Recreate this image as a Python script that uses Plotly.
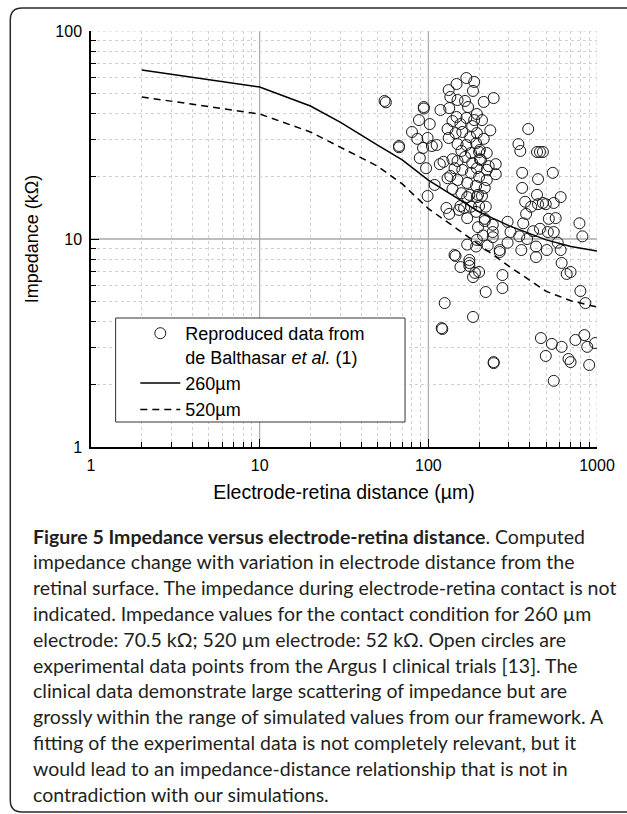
import plotly.graph_objects as go

# ---------------- data ----------------
# Reproduced clinical data (de Balthasar et al.)
dist_um = [55, 56, 67, 67, 94, 94, 88, 102, 80, 86, 99, 93, 105, 112, 89, 97, 117, 123, 109, 99, 118, 130, 128, 133,
           132, 147, 168, 187, 184, 135, 149, 165, 172, 133, 147, 168, 194, 208, 213, 244, 130, 145, 159, 182, 194,
           132, 149, 168, 192, 213, 222, 202, 179, 157, 139, 149, 165, 182, 205, 251, 251, 222, 200, 179, 159, 143,
           135, 149, 170, 192, 216, 222, 157, 175, 194, 200, 219, 179, 163, 152, 155, 170, 192, 216, 241, 241, 241,
           197, 211, 200, 202, 194, 197, 170, 139, 177, 155, 187, 233, 228, 139, 208, 216, 194,
           295, 307, 346, 385, 418, 459, 511, 554, 585, 609, 518, 569, 365, 380, 375, 407, 441, 447, 497, 554, 609,
           478, 360, 360, 447, 547, 342, 351, 391, 441, 459, 478, 787, 819, 170, 192, 225, 265, 295, 356, 435, 504,
           143, 175, 435, 617,
           145, 155, 175, 175, 189, 184, 200, 219, 275, 275, 265, 661, 697, 797, 853, 125, 184, 120, 121, 244, 244,
           465, 540, 617, 745, 841, 875, 975, 497, 678, 697, 899, 554]
imp_kohm = [46.1, 45.4, 28.0, 27.6, 43.1, 42.4, 37.3, 35.7, 32.7, 30.3, 30.6, 27.4, 28.0, 28.3, 24.5, 21.9, 22.9, 23.5,
            18.2, 16.1, 41.7, 19.6, 14.1, 13.2,
            52.0, 55.6, 59.4, 56.9, 51.5, 48.2, 46.6, 46.1, 43.1, 42.6, 38.6, 38.2, 39.9, 37.3, 45.6, 47.6, 33.8, 32.3,
            32.7, 34.9, 32.3, 30.6, 28.6, 28.3, 28.9, 30.3, 25.9, 26.8, 25.9, 26.5, 24.2, 23.7, 24.8, 23.2, 24.0, 22.9,
            20.5, 21.5, 19.9, 20.8, 21.5, 21.9, 20.1, 19.2, 18.6, 18.0, 17.6, 19.2, 16.6, 16.3, 15.9, 14.4, 14.3, 14.3,
            14.1, 13.8, 14.4, 12.6, 13.5, 12.5, 11.7, 10.8, 10.2, 11.4, 10.4, 26.2, 24.2, 21.9, 16.3, 15.9, 36.9, 30.9,
            35.7, 37.3, 33.3, 22.4, 17.4, 16.1, 12.2, 9.9,
            12.1, 10.8, 10.3, 10.0, 10.9, 11.2, 10.8, 10.8, 9.6, 8.85, 12.5, 12.6, 11.9, 13.2, 15.1, 14.3, 16.3, 14.7,
            14.7, 14.9, 15.9, 14.9, 20.8, 17.6, 19.4, 20.8, 28.6, 26.5, 33.8, 26.2, 26.2, 26.2, 11.9, 10.3, 9.4, 9.2,
            9.3, 8.85, 9.6, 8.85, 9.2, 8.85, 8.38, 7.93, 8.19, 7.67,
            8.28, 7.33, 7.67, 7.42, 6.87, 6.56, 6.94, 5.56, 6.71, 5.81, 8.66, 6.79, 6.94, 5.62, 4.92, 4.92, 4.22, 3.73,
            3.69, 2.56, 2.53, 3.34, 3.13, 3.03, 3.27, 3.45, 3.03, 3.16, 2.74, 2.65, 2.56, 2.48, 2.08]

# Simulated impedance curves
model_dist = [2, 10, 20, 30, 50, 70, 100, 150, 200, 300, 500, 700, 1000]
imp_260 = [64.9, 53.8, 43.6, 36.5, 28.3, 24.0, 19.2, 15.6, 13.5, 11.6, 9.9, 9.2, 8.75]
imp_520 = [48.2, 39.9, 32.7, 27.7, 22.4, 18.4, 14.0, 11.1, 9.4, 7.4, 5.6, 5.05, 4.71]

x_ticks = [1, 10, 100, 1000]
y_ticks = [1, 10, 100]
x_minor = [2, 3, 4, 5, 6, 7, 8, 9, 20, 30, 40, 50, 60, 70, 80, 90, 200, 300, 400, 500, 600, 700, 800, 900]
y_minor = [2, 3, 4, 5, 6, 7, 8, 9, 20, 30, 40, 50, 60, 70, 80, 90]

caption_lines = [
    "<b>Figure 5 Impedance versus electrode-retina distance</b>. Computed",
    "impedance change with variation in electrode distance from the",
    "retinal surface. The impedance during electrode-retina contact is not",
    "indicated. Impedance values for the contact condition for 260 µm",
    "electrode: 70.5 kΩ; 520 µm electrode: 52 kΩ. Open circles are",
    "experimental data points from the Argus I clinical trials [13]. The",
    "clinical data demonstrate large scattering of impedance but are",
    "grossly within the range of simulated values from our framework. A",
    "fitting of the experimental data is not completely relevant, but it",
    "would lead to an impedance-distance relationship that is not in",
    "contradiction with our simulations.",
]

# ---------------- layout geometry (pixels) ----------------
W, H = 627, 814
L, R, T, B = 91, 605, 31, 447


def px(xp):
    return (xp - L) / (R - L)


def py(yp):
    return (B - yp) / (B - T)


AX_FONT = "Liberation Sans, Arial, sans-serif"

fig = go.Figure()
fig.add_trace(go.Scatter(
    x=dist_um, y=imp_kohm, mode="markers",
    name="Reproduced data from<br>de Balthasar <i>et al.</i> (1)",
    marker=dict(symbol="circle-open", size=11, color="#1a1a1a", line=dict(width=1)),
))
fig.add_trace(go.Scatter(
    x=model_dist, y=imp_260, mode="lines", name="260µm",
    line=dict(color="black", width=1.5),
))
fig.add_trace(go.Scatter(
    x=model_dist, y=imp_520, mode="lines", name="520µm",
    line=dict(color="black", width=1.5, dash="7px,5px"),
))

shapes = []
# solid major grid lines
for xv in [10, 100]:
    shapes.append(dict(type="line", xref="x", yref="paper", x0=xv, x1=xv, y0=0, y1=1,
                       line=dict(color="#9a9a9a", width=1), layer="below"))
shapes.append(dict(type="line", xref="paper", yref="y", x0=0, x1=1, y0=10, y1=10,
                   line=dict(color="#a8a8a8", width=1.5), layer="below"))
shapes.append(dict(type="line", xref="x", yref="paper", x0=1000, x1=1000, y0=0, y1=1,
                   line=dict(color="#d0d0d0", width=1, dash="dot"), layer="below"))
shapes.append(dict(type="line", xref="paper", yref="y", x0=0, x1=1, y0=100, y1=100,
                   line=dict(color="#d0d0d0", width=1, dash="dot"), layer="below"))
# legend box
shapes.append(dict(type="rect", xref="paper", yref="paper", x0=px(116), x1=px(410), y0=py(422), y1=py(318),
                   line=dict(color="#333333", width=1), fillcolor="white", layer="above"))
# outer rounded frame
fl, ft, fb, fr, rad = 9, 8, 812, 660, 12
path = (f"M {px(fr)} {py(ft)} L {px(fl + rad)} {py(ft)} Q {px(fl)} {py(ft)} {px(fl)} {py(ft + rad)} "
        f"L {px(fl)} {py(fb - rad)} Q {px(fl)} {py(fb)} {px(fl + rad)} {py(fb)} L {px(fr)} {py(fb)}")
shapes.append(dict(type="path", xref="paper", yref="paper", path=path,
                   line=dict(color="#2a2a2a", width=1.5)))

annotations = []
for i, line in enumerate(caption_lines):
    annotations.append(dict(
        xref="paper", yref="paper", x=px(30), y=py(536 + 25.8 * i), xanchor="left", yanchor="middle",
        text=line, showarrow=False, align="left",
        font=dict(family="Lato, Noto Sans, sans-serif", size=19.5, color="#231f20"),
    ))

fig.update_layout(
    width=W, height=H,
    margin=dict(l=L, r=W - R, t=T, b=H - B),
    paper_bgcolor="white", plot_bgcolor="white",
    showlegend=True,
    legend=dict(x=px(136), y=py(315), xanchor="left", yanchor="top",
                bgcolor="rgba(0,0,0,0)", borderwidth=0, valign="top", itemwidth=40,
                font=dict(family=AX_FONT, size=18, color="black")),
    shapes=shapes,
    annotations=annotations,
    xaxis=dict(
        type="log", range=[0, 3], tickmode="array", tickvals=x_ticks, ticktext=[str(v) for v in x_ticks],
        ticks="inside", ticklen=8, tickwidth=1, tickcolor="black",
        showline=True, linecolor="black", linewidth=1.5, mirror=False,
        showgrid=False, zeroline=False,
        tickfont=dict(family=AX_FONT, size=16, color="black"),
        ticklabelstandoff=3,
        minor=dict(tickmode="array", tickvals=x_minor, ticks="inside", ticklen=5, tickcolor="black",
                   showgrid=True, gridcolor="#d0d0d0", griddash="dot", gridwidth=1),
        title=dict(text="Electrode-retina distance (µm)", standoff=12,
                   font=dict(family=AX_FONT, size=19.5, color="black")),
    ),
    yaxis=dict(
        type="log", range=[0, 2], tickmode="array", tickvals=y_ticks, ticktext=[str(v) for v in y_ticks],
        ticks="inside", ticklen=8, tickwidth=1, tickcolor="black",
        showline=True, linecolor="black", linewidth=1.5, mirror=False,
        showgrid=False, zeroline=False,
        tickfont=dict(family=AX_FONT, size=16, color="black"),
        ticklabelstandoff=4,
        minor=dict(tickmode="array", tickvals=y_minor, ticks="inside", ticklen=5, tickcolor="black",
                   showgrid=True, gridcolor="#d0d0d0", griddash="dot", gridwidth=1),
        title=dict(text="Impedance (kΩ)", standoff=12,
                   font=dict(family=AX_FONT, size=18, color="black")),
    ),
)

fig.write_html("out.html")
